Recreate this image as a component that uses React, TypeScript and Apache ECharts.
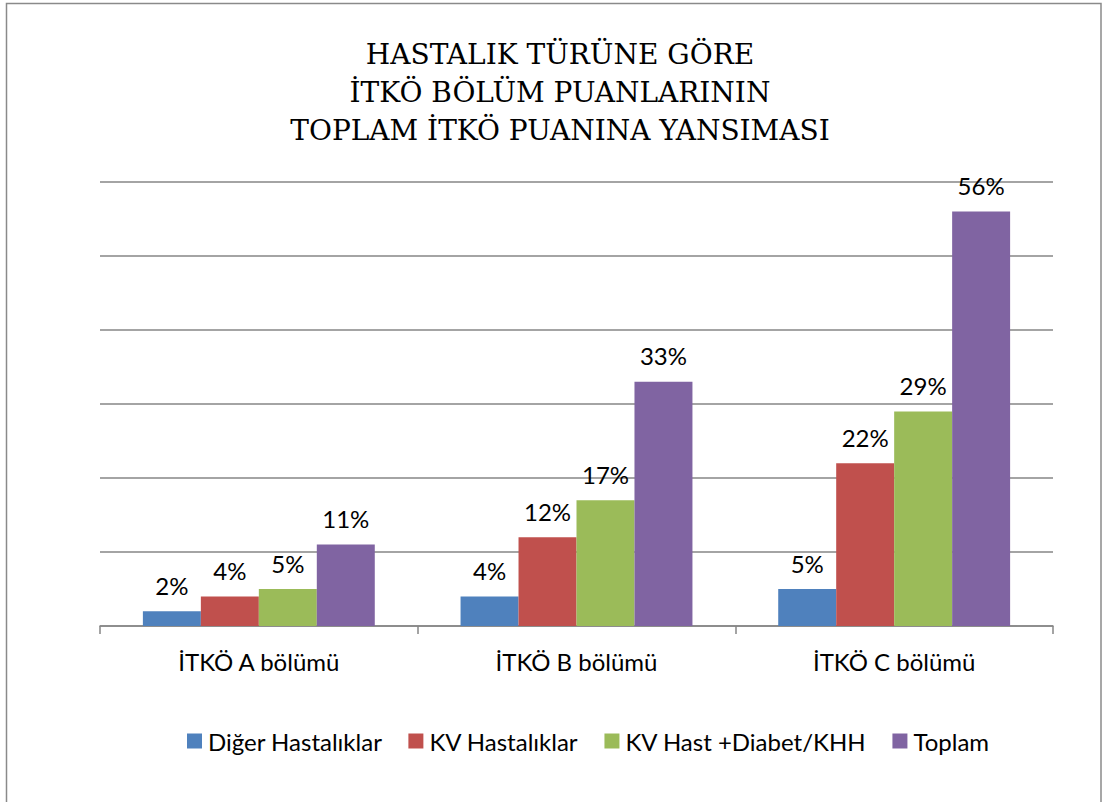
import React, { useEffect, useRef } from "react";
import * as echarts from "echarts";

const titleLines = [
  "HASTALIK T\u00DCR\u00DCNE G\u00D6RE",
  "\u0130TK\u00D6 B\u00D6L\u00DCM PUANLARININ",
  "TOPLAM \u0130TK\u00D6 PUANINA YANSIMASI",
];
const categories = ["\u0130TK\u00D6 A b\u00F6l\u00FCm\u00FC", "\u0130TK\u00D6 B b\u00F6l\u00FCm\u00FC", "\u0130TK\u00D6 C b\u00F6l\u00FCm\u00FC"];
const seriesNames = ["Di\u011Fer Hastal\u0131klar", "KV Hastal\u0131klar", "KV Hast +Diabet/KHH", "Toplam"];
const digerValues = [2, 4, 5];
const kvValues = [4, 12, 22];
const kvDiabetValues = [5, 17, 29];
const toplamValues = [11, 33, 56];
const seriesColors = ["#4F81BD", "#C0504D", "#9BBB59", "#8064A2"];
const yMin = 0;
const yMax = 60;
const yInterval = 10;

export default function App() {
  const ref = useRef<HTMLDivElement>(null);
  useEffect(() => {
    if (!ref.current) return;
    const chart = echarts.init(ref.current, undefined, { renderer: "svg" });
    const allValues = [digerValues, kvValues, kvDiabetValues, toplamValues];
    const font = "Lato, sans-serif";
    chart.setOption({
      animation: false,
      backgroundColor: "#ffffff",
      legend: {
        left: 187,
        top: 729,
        padding: 0,
        itemWidth: 15,
        itemHeight: 15,
        itemGap: 26,
        icon: "rect",
        textStyle: { fontFamily: font, fontSize: 24, color: "#000000", padding: [0, 0, 0, 1] },
        data: seriesNames,
      },
      grid: { left: 100, right: 50, top: 182, bottom: 176, containLabel: false },
      xAxis: {
        type: "category",
        data: categories,
        axisLine: { lineStyle: { color: "#868686", width: 1.5 } },
        axisTick: { show: true, length: 8, lineStyle: { color: "#868686", width: 1.5 } },
        axisLabel: { fontFamily: font, fontSize: 24, color: "#000000", margin: 23 },
      },
      yAxis: {
        type: "value",
        min: yMin,
        max: yMax,
        interval: yInterval,
        axisLabel: { show: false },
        axisLine: { show: false },
        axisTick: { show: false },
        splitLine: { lineStyle: { color: "#868686", width: 1.5 } },
      },
      series: seriesNames.map((name, i) => ({
        name,
        type: "bar",
        data: allValues[i],
        barGap: "0%",
        barCategoryGap: "27%",
        itemStyle: { color: seriesColors[i] },
        label: {
          show: true,
          position: "top",
          distance: 14,
          formatter: "{c}%",
          fontFamily: font,
          fontSize: 24,
          color: "#000000",
        },
      })),
      graphic: [
        {
          type: "rect",
          shape: { x: 6.5, y: 3.5, width: 1094.5, height: 900 },
          style: { fill: "none", stroke: "#8a8a8a", lineWidth: 1.5 },
          silent: true,
        },
        ...titleLines.map((line, i) => ({
          type: "text",
          x: 560,
          y: 54 + i * 38,
          silent: true,
          style: {
            text: line,
            fontFamily: "DejaVu Serif",
            fontSize: 28,
            fill: "#000000",
            textAlign: "center",
            textVerticalAlign: "middle",
          },
        })),
      ],
    });
    return () => chart.dispose();
  }, []);
  return (
    <div
      ref={ref}
      style={{ position: "absolute", left: 0, top: 0, width: 1103, height: 802 }}
    />
  );
}
